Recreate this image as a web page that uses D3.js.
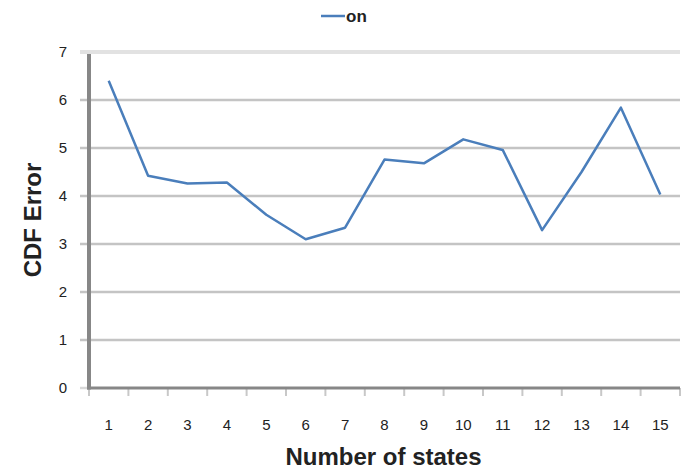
<!DOCTYPE html>
<html>
<head>
<meta charset="utf-8">
<script src="https://cdn.jsdelivr.net/npm/d3@7"></script>
<style>
  html, body { margin: 0; padding: 0; background: #fff; }
  svg { display: block; font-family: "Liberation Sans", Arial, sans-serif; }
</style>
</head>
<body>
<svg id="chart" width="683" height="471"></svg>
<script>
// Number of states on the x axis
const categories = ["1","2","3","4","5","6","7","8","9","10","11","12","13","14","15"];
// CDF error for the "on" series
const onValues = [6.4, 4.42, 4.26, 4.28, 3.61, 3.1, 3.34, 4.76, 4.68, 5.18, 4.96, 3.29, 4.5, 5.84, 4.03];
const yTicks = [0, 1, 2, 3, 4, 5, 6, 7];
const seriesName = "on";
const xTitle = "Number of states";
const yTitle = "CDF Error";

const svg = d3.select("#chart");
const plotLeft = 89, plotRight = 680, plotTop = 52, plotBottom = 388;

const x = d3.scaleBand().domain(categories).range([plotLeft, plotRight]);
const y = d3.scaleLinear().domain([0, 7]).range([plotBottom, plotTop]);

// horizontal gridlines, extending slightly left of the axis as tick marks
svg.append("g").selectAll("line").data(yTicks.filter(d => d > 0)).join("line")
  .attr("x1", plotLeft - 9).attr("x2", plotRight)
  .attr("y1", d => y(d)).attr("y2", d => y(d))
  .attr("stroke", d => d === 7 ? "#e2e2e2" : "#c4c4c4")
  .attr("stroke-width", d => d === 7 ? 4 : 2.5);

// y tick labels
svg.append("g").selectAll("text").data(yTicks).join("text")
  .attr("x", 67).attr("y", d => y(d)).attr("dy", "0.35em")
  .attr("text-anchor", "end")
  .attr("font-size", 15).attr("fill", "#222")
  .text(d => d);

// category boundary ticks below the x axis
const bounds = categories.map(c => x(c)).concat([x.range()[1]]);
svg.append("g").selectAll("line").data(bounds).join("line")
  .attr("x1", d => d).attr("x2", d => d)
  .attr("y1", plotBottom).attr("y2", plotBottom + 8)
  .attr("stroke", "#c8c8c8").attr("stroke-width", 2);

// zero-level tick left of the axis
svg.append("line").attr("x1", plotLeft - 9).attr("x2", plotLeft)
  .attr("y1", y(0)).attr("y2", y(0))
  .attr("stroke", "#d8d8d8").attr("stroke-width", 2.5);

// axes lines
svg.append("line").attr("x1", plotLeft).attr("x2", plotLeft)
  .attr("y1", plotTop + 2).attr("y2", plotBottom + 1.5)
  .attr("stroke", "#878787").attr("stroke-width", 4);
svg.append("line").attr("x1", plotLeft - 2).attr("x2", plotRight)
  .attr("y1", plotBottom).attr("y2", plotBottom)
  .attr("stroke", "#878787").attr("stroke-width", 3);

// x tick labels
svg.append("g").selectAll("text").data(categories).join("text")
  .attr("x", d => x(d) + x.bandwidth() / 2).attr("y", 430)
  .attr("text-anchor", "middle")
  .attr("font-size", 15).attr("fill", "#222")
  .text(d => d);

// series line
const line = d3.line()
  .x((d, i) => x(categories[i]) + x.bandwidth() / 2)
  .y(d => y(d));
svg.append("path").datum(onValues)
  .attr("d", line)
  .attr("fill", "none")
  .attr("stroke", "#4a7ebb")
  .attr("stroke-width", 2.5)
  .attr("stroke-linejoin", "round");

// legend
svg.append("line").attr("x1", 321).attr("x2", 345).attr("y1", 16).attr("y2", 16)
  .attr("stroke", "#4a7ebb").attr("stroke-width", 2.5);
svg.append("text").attr("x", 346).attr("y", 22)
  .attr("font-size", 17).attr("font-weight", "bold").attr("fill", "#222")
  .text(seriesName);

// axis titles
svg.append("text").attr("x", (plotLeft + plotRight) / 2 - 1).attr("y", 465)
  .attr("text-anchor", "middle")
  .attr("font-size", 24).attr("font-weight", "bold").attr("fill", "#222")
  .text(xTitle);
svg.append("text")
  .attr("transform", "translate(41,220) rotate(-90)")
  .attr("text-anchor", "middle")
  .attr("font-size", 24).attr("font-weight", "bold").attr("fill", "#222")
  .text(yTitle);
</script>
</body>
</html>
